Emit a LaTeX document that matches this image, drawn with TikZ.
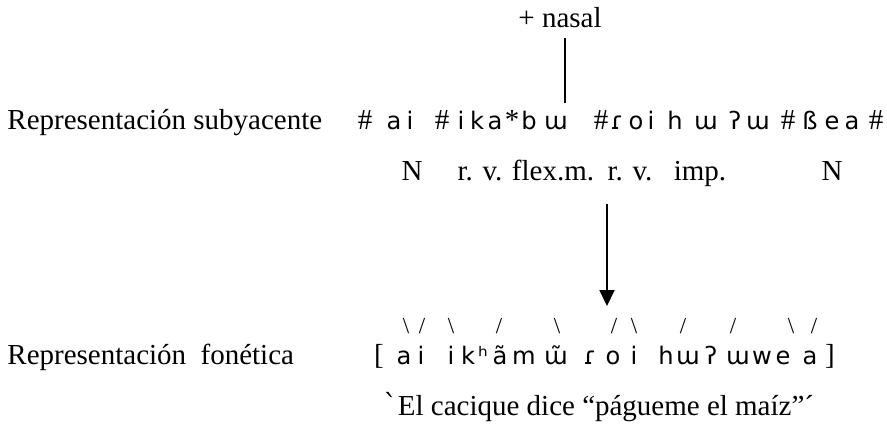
\documentclass[tikz,border=0pt]{standalone}
\usepackage{fontspec}
\setmainfont{Liberation Serif}
\newfontfamily\ipafont{DejaVu Sans}
\newfontfamily\accfont{DejaVu Serif}
\usetikzlibrary{arrows.meta}

\begin{document}
\begin{tikzpicture}[x=0.414pt, y=-0.414pt,
		txt/.style={anchor=base, inner sep=0pt, font=\fontsize{12}{14}\selectfont},
		ipa/.style={anchor=base, inner sep=0pt, font=\ipafont\fontsize{10}{12}\selectfont},
		tone/.style={inner sep=0pt, font=\fontsize{9.5}{10}\selectfont},
		rule/.style={line width=0.8pt}]
	\useasboundingbox (0,0) rectangle (887,428);
	
	\node[txt] (nasal) at (560,28) {+ nasal};
	\coordinate (nastop) at (565,38);
	\coordinate (nasbot) at (565,103);
	\draw[rule] (nastop) -- (nasbot);
	
	\node[txt, anchor=base west] (subtit) at (7,130) {Representación subyacente};
	\foreach \x/\g [count=\i] in {394/a, 410/i, 461/i, 477/k, 495/a, 529/b, 556/ɯ,
		617/ɾ, 636/o, 651/i, 675/h, 706/ɯ, 735/ʔ, 758/ɯ, 810/ß, 832/e, 852/a}
		\node[ipa] (s\i) at (\x,130) {\g};
	\foreach \x [count=\i] in {365,442,601,788,876}
		\node[txt] (h\i) at (\x,130) {\#};
	\node[txt] (star) at (512,130) {*};
	
	\foreach \x/\t [count=\i] in {412/N, 480/r. v., 553/flex.m., 630/r. v., 700/imp., 832/N}
		\node[txt] (m\i) at (\x,181) {\t};
	
	\coordinate (arrtop) at (607,204);
	\coordinate (arrtip) at (607,306);
	\draw[rule, -{Triangle[width=6.2pt, length=6.6pt]}] (arrtop) -- (arrtip);
	
	\foreach \x in {406,451,557,634,791}
		\node[tone] (bs\x) at (\x,326) {\textbackslash};
	\foreach \x in {422,499,614,683,733,814}
		\node[tone] (sl\x) at (\x,326) {/};
	
	\node[txt, anchor=base west] (fontit) at (7,365) {Representación\ \ fonética};
	\node[txt] (lbr) at (379,365) {[};
	\foreach \x/\g [count=\i] in {404/a, 421/i, 451/i, 468/k, 483/ʰ, 500/ã, 524/m, 556/ɯ̃, 590/ɾ, 613/o,
		634/i, 666/h, 688/ɯ, 711/ʔ, 738/ɯ, 762/w, 783/e, 810/a}
		\node[ipa] (f\i) at (\x,365) {\g};
	\node[txt] (rbr) at (830,365) {]};
	
	\node[txt, anchor=base west] (gloss) at (383,415) {{\accfont ˋ}El cacique dice “págueme el maíz”´};
\end{tikzpicture}
\end{document}
